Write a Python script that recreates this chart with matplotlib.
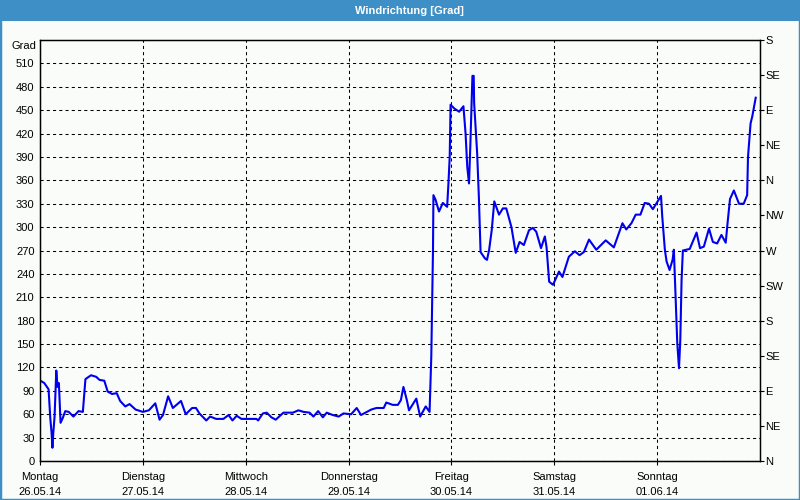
import matplotlib.pyplot as plt
from matplotlib.patches import Rectangle

# hours since Montag 26.05.14 00:00 and wind direction in degrees
hours = [0.1, 1.0, 2.0, 2.4, 2.7, 2.9, 3.1, 3.4, 3.8, 4.1, 4.4, 4.8, 5.3, 5.9, 6.7, 7.8, 9.0, 10.0,
         10.6, 11.9, 13.1, 13.9, 15.0, 15.8, 16.8, 17.9, 18.7, 19.9, 20.9, 22.3, 24.0, 25.4, 26.9,
         27.9, 28.7, 29.9, 31.0, 32.9, 34.0, 35.5, 36.4, 37.2, 38.8, 39.7, 41.1, 42.8, 44.0, 44.9,
         45.9, 47.0, 50.5, 50.9, 52.0, 52.9, 54.0, 55.0, 56.8, 59.0, 60.3, 61.5, 62.9, 63.8, 64.9,
         66.0, 66.9, 68.3, 69.7, 70.8, 72.6, 73.9, 74.9, 77.3, 78.5, 80.2, 80.8, 82.3, 83.5, 84.2,
         84.8, 85.6, 86.1, 87.8, 88.7, 90.0, 90.9, 91.3, 91.5, 91.7, 91.8, 92.3, 93.1, 94.0, 95.0,
         95.3, 95.6, 95.7, 95.8, 96.7, 97.8, 98.8, 99.3, 99.7, 100.1, 100.4, 100.9, 101.2, 101.3,
         102.0, 102.4, 102.8, 103.8, 104.3, 104.8, 105.4, 106.0, 107.1, 108.0, 108.8, 110.0, 111.0,
         111.9, 112.9, 114.1, 115.0, 115.8, 116.9, 117.8, 118.2, 118.8, 119.7, 121.1, 121.9, 123.4,
         124.8, 125.9, 126.9, 128.1, 129.8, 132.0, 133.9, 135.9, 136.8, 138.0, 139.0, 140.1, 141.1,
         142.1, 143.0, 144.9, 145.2, 145.8, 146.2, 146.9, 147.6, 147.9, 148.3, 148.7, 149.1, 149.4,
         149.7, 150.0, 151.6, 153.2, 154.0, 154.9, 156.1, 157.0, 158.0, 159.0, 160.0, 160.5, 161.0,
         161.9, 163.1, 164.2, 165.0, 165.2, 165.8, 166.2, 167.0]
grad = [103, 100, 92, 55, 36, 17, 36, 57, 116, 95, 100, 49, 55, 64, 63, 57, 64, 63,
        105, 110, 108, 104, 103, 89, 86, 87, 77, 70, 73, 66, 63, 65, 74,
        53, 59, 83, 68, 77, 60, 68, 68, 61, 52, 57, 54, 54, 59, 52,
        58, 54, 54, 52, 61, 62, 56, 53, 62, 62, 65, 63, 62, 57, 64,
        56, 62, 59, 57, 61, 60, 68, 59, 66, 68, 68, 75, 72, 72, 78,
        95, 78, 65, 80, 57, 70, 63, 134, 202, 271, 341, 335, 320, 331, 326,
        356, 390, 422, 457, 452, 448, 455, 420, 377, 356, 403, 494, 494, 459,
        395, 339, 268, 260, 258, 271, 296, 333, 316, 324, 324, 300, 267,
        281, 277, 296, 299, 294, 273, 288, 274, 230, 226, 243, 236, 262,
        269, 264, 268, 284, 271, 283, 274, 305, 297, 305, 316, 316, 331,
        330, 323, 340, 313, 271, 256, 245, 258, 271, 211, 151, 119, 155,
        232, 270, 272, 293, 273, 275, 298, 281, 279, 290, 280, 309, 336,
        347, 330, 330, 341, 390, 433, 442, 466]

day_names = ['Montag', 'Dienstag', 'Mittwoch', 'Donnerstag', 'Freitag', 'Samstag', 'Sonntag']
day_dates = ['26.05.14', '27.05.14', '28.05.14', '29.05.14', '30.05.14', '31.05.14', '01.06.14']
compass = ['N', 'NE', 'E', 'SE', 'S', 'SW', 'W', 'NW', 'N', 'NE', 'E', 'SE', 'S']

plt.rcParams['font.family'] = ['Liberation Sans', 'DejaVu Sans']
plt.rcParams['font.size'] = 8

bg = '#fafcfa'
blue_bar = '#3d8fc6'

fig = plt.figure(figsize=(8, 5), dpi=100, facecolor=bg)
ax = fig.add_axes([40 / 800, 39 / 500, 720 / 800, 421 / 500])
ax.set_facecolor(bg)

# title bar and frame
fig.patches.append(Rectangle((0, 1 - 21 / 500), 1, 21 / 500, transform=fig.transFigure,
                             facecolor=blue_bar, edgecolor='none', zorder=0))
fig.patches.append(Rectangle((0, 0), 1, 1, transform=fig.transFigure,
                             facecolor='none', edgecolor=blue_bar, linewidth=2.5, zorder=5))
fig.text(409 / 800, 1 - 10.5 / 500, 'Windrichtung [Grad]', color='white', fontweight='bold',
         ha='center', va='center', fontsize=8)

ax.plot(hours, grad, color='#0000ee', linewidth=1.5, zorder=3)

ax.set_xlim(0, 168)
ax.set_ylim(0, 540)

ax.set_yticks(range(0, 540, 30))
ax.tick_params(axis='y', length=0, pad=4)
ax.set_xticks([24 * i for i in range(7)])
ax.set_xticklabels([n + '\n' + d for n, d in zip(day_names, day_dates)], linespacing=1.6)
ax.tick_params(axis='x', length=3, pad=5)

ax.grid(True, color='black', linestyle=(0, (3, 3)), linewidth=0.75)

for s in ax.spines.values():
    s.set_linewidth(1)

ax.text(-4 / 720, 1 - 6 / 421, 'Grad', transform=ax.transAxes, ha='right', va='center')

ax2 = ax.twinx()
ax2.set_ylim(0, 540)
ax2.set_yticks(range(0, 541, 45))
ax2.set_yticklabels(compass)
ax2.tick_params(axis='y', length=3, pad=1)

fig.savefig('out.png', dpi=100, facecolor=bg)
